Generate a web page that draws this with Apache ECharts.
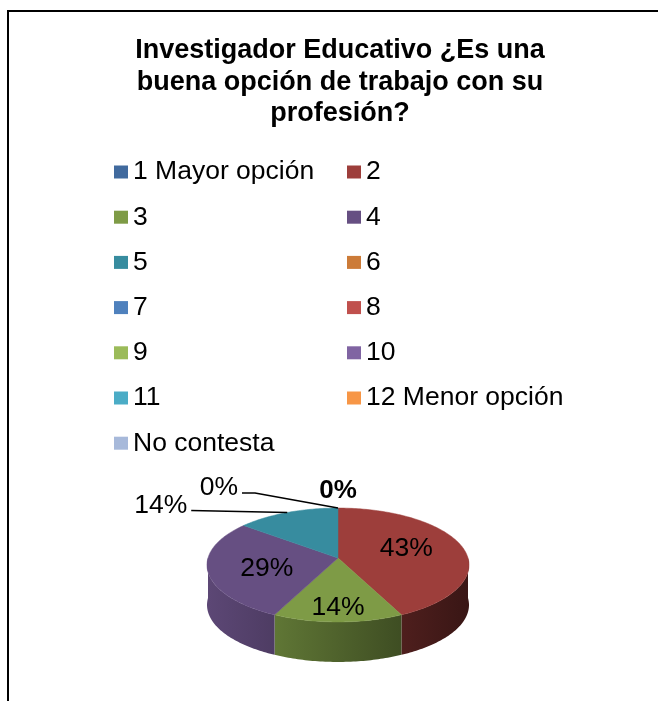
<!DOCTYPE html>
<html>
<head>
<meta charset="utf-8">
<script src="https://cdn.jsdelivr.net/npm/echarts@6/dist/echarts.min.js"></script>
<style>
html,body{margin:0;padding:0;background:#fff;}
#chart{width:658px;height:701px;}
</style>
</head>
<body>
<div id="chart"></div>
<script>
// ---- data ----
const titleText = 'Investigador Educativo ¿Es una\nbuena opción de trabajo con su\nprofesión?';
const categories = ['1 Mayor opción', '2', '3', '4', '5', '6', '7', '8', '9', '10', '11', '12 Menor opción', 'No contesta'];
const counts = [0, 3, 1, 2, 1, 0, 0, 0, 0, 0, 0, 0, 0];
const colors = ['#416A9E', '#9D3E3B', '#7E9B46', '#664F82', '#378C9F', '#CC7B38', '#4F81BD', '#C0504D', '#9BBB59', '#8064A2', '#4BACC6', '#F79646', '#A7B9DA'];
const labelledCategories = ['1 Mayor opción', '2', '3', '4', '5', '6'];

// ---- layout (styles, not data) ----
const FONT = '"Liberation Sans", Arial, sans-serif';
const CX = 338, CY = 558, SX = 130, SY = 56.1, K = 0.123, DEPTH = 40;
const outsideLabel = {
  '5': { dx: -96, dy: -2, h: 0 },
  '6': { dx: -83, dy: -15, h: 13 },
  '1 Mayor opción': { above: true }
};

const total = counts.reduce((a, b) => a + b, 0);
const starts = [];
let acc = 0;
counts.forEach(v => { starts.push(acc); acc += v; });

function proj(theta, ru, rv) {
  const u = ru * Math.sin(theta), v = -rv * Math.cos(theta);
  const d = 1 - K * v;
  return [CX + SX * u / d, CY + SY * v / d];
}
function shade(hex, f) {
  const n = parseInt(hex.slice(1), 16);
  const r = Math.round(((n >> 16) & 255) * f), g = Math.round(((n >> 8) & 255) * f), b = Math.round((n & 255) * f);
  return 'rgb(' + r + ',' + g + ',' + b + ')';
}
function arc(a1, a2, dy) {
  const pts = [];
  const steps = Math.max(2, Math.ceil((a2 - a1) / (Math.PI / 180)));
  for (let s = 0; s <= steps; s++) {
    const p = proj(a1 + (a2 - a1) * s / steps, 1, 1);
    pts.push([p[0], p[1] + dy]);
  }
  return pts;
}

function renderItem(params, api) {
  const i = params.dataIndex;
  const val = api.value(0);
  const name = categories[i];
  const a1 = starts[i] / total * Math.PI * 2;
  const a2 = (starts[i] + val) / total * Math.PI * 2;
  const children = [];
  const base = colors[i];
  if (val > 0) {
    const w1 = Math.max(a1, Math.PI / 2), w2 = Math.min(a2, Math.PI * 1.5);
    if (w2 > w1) {
      const top = arc(w1, w2, 0);
      const bot = arc(w1, w2, DEPTH).reverse();
      children.push({
        type: 'polygon',
        shape: { points: top.concat(bot) },
        style: {
          fill: {
            type: 'linear', x: CX - SX, y: 0, x2: CX + SX, y2: 0, global: true,
            colorStops: [{ offset: 0, color: shade(base, 0.9) }, { offset: 1, color: shade(base, 0.36) }]
          },
          stroke: null
        }
      });
    }
    children.push({
      type: 'polygon',
      shape: { points: [[CX, CY]].concat(arc(a1, a2, 0)) },
      style: { fill: base, stroke: base, lineWidth: 0.5 }
    });
  }
  if (labelledCategories.indexOf(name) >= 0) {
    const pct = Math.round(val / total * 100) + '%';
    const mid = (a1 + a2) / 2;
    const o = outsideLabel[name];
    if (o && o.above) {
      const p = proj(mid, 1, 1);
      children.push({ type: 'text', x: p[0], y: p[1] - 4, z2: 20,
        style: { text: pct, fontSize: 26, fontFamily: FONT, fontWeight: 'bold', fill: '#000', align: 'center', verticalAlign: 'bottom' } });
    } else if (o) {
      const p = proj(mid, 1, 1);
      const e = [p[0] + o.dx, p[1] + o.dy];
      const f = [e[0] - o.h, e[1]];
      children.push({ type: 'polyline', z2: 20, shape: { points: [p, e, f] }, style: { stroke: '#000', lineWidth: 1.6, fill: null } });
      children.push({ type: 'text', x: f[0] - 4, y: f[1] - 5, z2: 20,
        style: { text: pct, fontSize: 26.5, fontFamily: FONT, fill: '#000', align: 'right', verticalAlign: 'middle' } });
    } else {
      const p = proj(mid, 0.55, 0.8);
      children.push({ type: 'text', x: p[0], y: p[1], z2: 20,
        style: { text: pct, fontSize: 26.5, fontFamily: FONT, fill: '#000', align: 'center', verticalAlign: 'middle' } });
    }
  }
  return { type: 'group', children: children };
}

const legendText = { fontSize: 26.5, lineHeight: 30, fontFamily: FONT, color: '#000' };
const chart = echarts.init(document.getElementById('chart'), null, { renderer: 'canvas' });
chart.setOption({
  backgroundColor: '#fff',
  animation: false,
  title: {
    text: titleText, left: 340, top: 35, textAlign: 'center', padding: 0,
    textStyle: { fontSize: 27, fontWeight: 'bold', fontFamily: FONT, color: '#000', lineHeight: 31.5 }
  },
  legend: [
    { orient: 'vertical', left: 114, top: 157, padding: 0, icon: 'rect', itemWidth: 14, itemHeight: 13, itemGap: 15.2,
      selectedMode: false, data: categories.filter((_, i) => i % 2 === 0), textStyle: legendText },
    { orient: 'vertical', left: 347, top: 157, padding: 0, icon: 'rect', itemWidth: 14, itemHeight: 13, itemGap: 15.2,
      selectedMode: false, data: categories.filter((_, i) => i % 2 === 1), textStyle: legendText }
  ],
  graphic: [{
    type: 'rect', shape: { x: 8, y: 11, width: 700, height: 760 },
    style: { fill: null, stroke: '#000', lineWidth: 2 }, silent: true
  }],
  series: [
    {
      type: 'pie', radius: [0, 0], center: [CX, CY], silent: true, label: { show: false }, labelLine: { show: false },
      data: categories.map((c, i) => ({ name: c, value: counts[i], itemStyle: { color: colors[i] } }))
    },
    {
      type: 'custom', coordinateSystem: 'none', silent: true, renderItem: renderItem,
      data: categories.map((c, i) => ({ name: c, value: [counts[i]] }))
    }
  ]
});
</script>
</body>
</html>
